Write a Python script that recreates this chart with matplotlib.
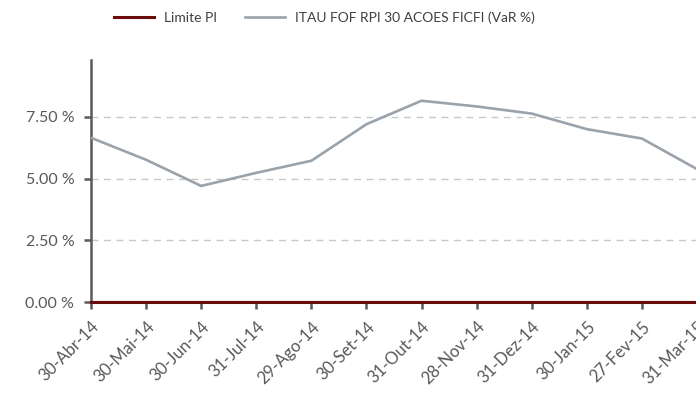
import matplotlib
matplotlib.use('Agg')
from matplotlib import pyplot as plt
from matplotlib.ticker import FuncFormatter

datas = ['30-Abr-14', '30-Mai-14', '30-Jun-14', '31-Jul-14', '29-Ago-14', '30-Set-14',
         '31-Out-14', '28-Nov-14', '31-Dez-14', '30-Jan-15', '27-Fev-15', '31-Mar-15']
var_fundo = [6.65, 5.76, 4.70, 5.23, 5.72, 7.20, 8.15, 7.92, 7.63, 7.00, 6.62, 5.38]
limite_pi = [0, 0, 0, 0, 0, 0, 0, 0, 0, 0, 0, 0]
yticks = [0, 2.5, 5.0, 7.5]

plt.rcParams['font.family'] = ['Lato', 'DejaVu Sans']

fig = plt.figure(figsize=(6.96, 4.19), dpi=100)
ax = fig.add_axes([91/696, 1 - 302/419, 606/696, 242/419])

x = list(range(len(datas)))
ax.plot(x, var_fundo, color='#9aa3ab', lw=1.9, label='ITAU FOF RPI 30 ACOES FICFI (VaR %)', zorder=3)
ax.plot(x, limite_pi, color='#6b0c0c', lw=2.2, label='Limite PI', zorder=4, clip_on=False)

ax.set_xlim(0, len(datas) - 1)
ax.set_ylim(0, 9.8)
ax.set_yticks(yticks)
ax.yaxis.set_major_formatter(FuncFormatter(lambda v, p: f'{v:.2f} %'))
ax.set_xticks(x)
ax.set_xticklabels(datas, rotation=45, ha='right', rotation_mode='anchor', fontsize=12)

for v in yticks[1:]:
    ax.axhline(v, color='#c8c8c8', lw=1, ls=(0, (5, 4)), zorder=1)

for s in ['top', 'right']:
    ax.spines[s].set_visible(False)
ax.spines['left'].set_color('#595959')
ax.spines['left'].set_linewidth(1.8)
ax.spines['bottom'].set_color('#595959')
ax.spines['bottom'].set_linewidth(1.5)
ax.tick_params(axis='both', colors='#595959', length=5, width=1.8, labelcolor='#595959')
ax.tick_params(axis='y', labelsize=11.5, pad=7)
ax.tick_params(axis='x', pad=7)

h, l = ax.get_legend_handles_labels()
fig.legend(h[::-1], l[::-1], loc='center', bbox_to_anchor=(0.466, 0.958), ncol=2, frameon=False,
           fontsize=10, handlelength=2.9, handletextpad=0.7, columnspacing=2.0, labelcolor='#404040')

fig.savefig('out.png', dpi=100)
